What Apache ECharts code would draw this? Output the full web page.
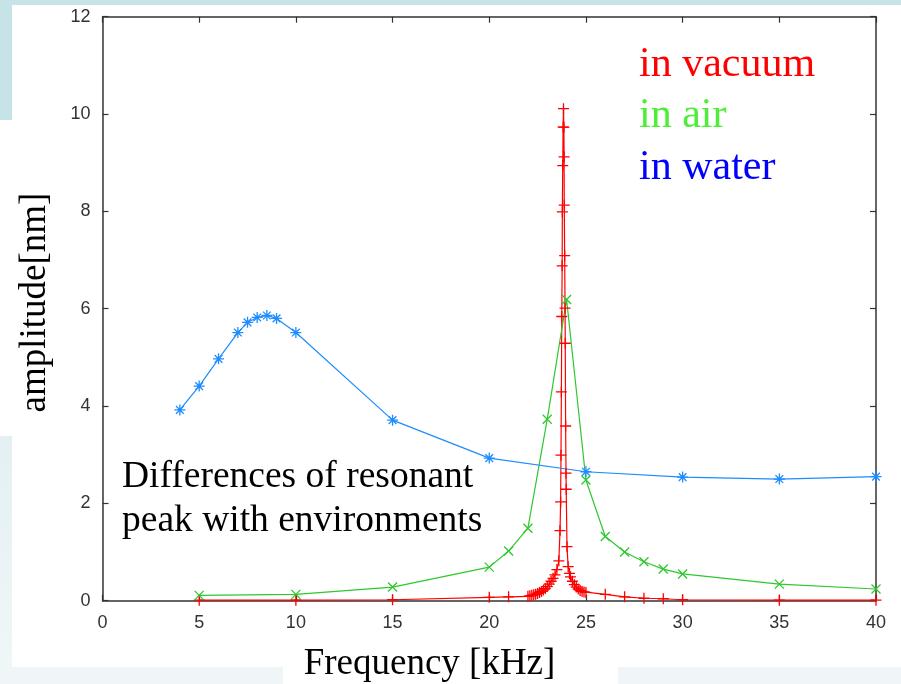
<!DOCTYPE html>
<html>
<head>
<meta charset="utf-8">
<script src="https://cdn.jsdelivr.net/npm/echarts@6/dist/echarts.min.js"></script>
<style>html,body{margin:0;padding:0;background:#fff}#c{width:901px;height:684px}</style>
</head>
<body>
<div id="c"></div>
<script>
// ---- data ----
var xTicks = [0, 5, 10, 15, 20, 25, 30, 35, 40];
var yTicks = [0, 2, 4, 6, 8, 10, 12];

var vacuumX = [5, 10, 15, 20, 21,
  22.0, 22.1, 22.2, 22.3, 22.4, 22.5, 22.6, 22.7, 22.8, 22.9, 23.0, 23.1, 23.2, 23.3, 23.4, 23.5, 23.6,
  23.66, 23.69, 23.71, 23.73, 23.75, 23.77, 23.78, 23.80, 23.82, 23.84,
  23.86, 23.87, 23.88, 23.90, 23.92, 23.93, 23.95, 23.97, 23.98, 24.02, 24.08,
  24.15, 24.2, 24.3, 24.4, 24.5, 24.6, 24.7, 24.8, 24.9, 25.0,
  26, 27, 28, 29, 30, 35, 40];
var vacuumY = [0.01, 0.01, 0.02, 0.07, 0.08,
  0.09, 0.10, 0.11, 0.12, 0.13, 0.15, 0.17, 0.19, 0.22, 0.25, 0.29, 0.34, 0.40, 0.46, 0.53, 0.64, 0.82,
  1.44, 2.03, 2.99, 4.29, 5.84, 6.88, 7.99, 8.94, 9.73, 10.11,
  9.73, 9.12, 8.13, 7.09, 6.01, 5.29, 3.59, 2.62, 2.29, 1.11, 0.70,
  0.56, 0.49, 0.40, 0.33, 0.28, 0.24, 0.21, 0.19, 0.18, 0.17,
  0.13, 0.08, 0.05, 0.04, 0.02, 0.01, 0.01];

var airX = [5, 10, 15, 20, 21, 22, 23, 24, 25, 26, 27, 28, 29, 30, 35, 40];
var airY = [0.11, 0.13, 0.28, 0.69, 1.02, 1.49, 3.73, 6.19, 2.48, 1.32, 1.00, 0.80, 0.65, 0.55, 0.34, 0.24];

var waterX = [4, 5, 6, 7, 7.5, 8, 8.5, 9, 10, 15, 20, 25, 30, 35, 40];
var waterY = [3.92, 4.41, 4.97, 5.51, 5.72, 5.82, 5.86, 5.80, 5.51, 3.71, 2.93, 2.65, 2.54, 2.50, 2.55];

var legendLabels = ['in vacuum', 'in air', 'in water'];
var xTitle = 'Frequency [kHz]';
var yTitle = 'amplitude[nm]';
var note = 'Differences of resonant\npeak with environments';

function zip(xs, ys) { return xs.map(function (x, i) { return [x, ys[i]]; }); }

var PLUS = 'path://M0,5L10,5M5,0L5,10';
var CROSS = 'path://M0,0L10,10M10,0L0,10';
var STAR = 'path://M0,5L10,5M5,0L5,10M1.5,1.5L8.5,8.5M8.5,1.5L1.5,8.5';

var axisCol = '#333';
var tickLabel = { color: '#333', fontFamily: 'Liberation Sans', fontSize: 18 };

function xAx(pos, showLabel) {
  return {
    type: 'value', position: pos, min: 0, max: 40, interval: 5,
    axisLine: { show: true, onZero: false, lineStyle: { color: axisCol, width: 1.5 } },
    axisTick: { show: true, inside: true, length: 6, lineStyle: { color: axisCol, width: 1.2 } },
    axisLabel: Object.assign({ show: showLabel, margin: 13 }, tickLabel),
    splitLine: { show: false }
  };
}
function yAx(pos, showLabel) {
  return {
    type: 'value', position: pos, min: 0, max: 12, interval: 2,
    axisLine: { show: true, onZero: false, lineStyle: { color: axisCol, width: 1.5 } },
    axisTick: { show: true, inside: true, length: 6, lineStyle: { color: axisCol, width: 1.2 } },
    axisLabel: Object.assign({ show: showLabel, margin: 12 }, tickLabel),
    splitLine: { show: false }
  };
}

function series(name, data, color, symbol, size) {
  return {
    name: name, type: 'line', data: data, xAxisIndex: 0, yAxisIndex: 0,
    showAllSymbol: true, symbol: symbol, symbolSize: size,
    lineStyle: { color: color, width: 1.2 },
    itemStyle: { color: color, borderColor: color, borderWidth: 1.3 },
    emphasis: { disabled: true }
  };
}

var chart = echarts.init(document.getElementById('c'), null, { renderer: 'canvas' });
chart.setOption({
  animation: false,
  backgroundColor: '#ffffff',
  grid: { left: 102.5, top: 16.7, right: 25, bottom: 83.3, containLabel: false },
  xAxis: [xAx('bottom', true), xAx('top', false)],
  yAxis: [yAx('left', true), yAx('right', false)],
  series: [
    series(legendLabels[0], zip(vacuumX, vacuumY), '#ff0000', PLUS, 11),
    series(legendLabels[1], zip(airX, airY), '#2ec82e', CROSS, 9),
    series(legendLabels[2], zip(waterX, waterY), '#1e8cff', STAR, 11)
  ],
  graphic: [
    { type: 'rect', z: -10, silent: true, shape: { x: 0, y: 0, width: 901, height: 5 }, style: { fill: '#c6e3e7' } },
    { type: 'rect', z: -10, silent: true, shape: { x: 0, y: 0, width: 12, height: 120 }, style: { fill: '#c6e3e7' } },
    { type: 'rect', z: -10, silent: true, shape: { x: 0, y: 436, width: 12, height: 248 },
      style: { fill: new echarts.graphic.LinearGradient(0, 0, 0, 1, [{ offset: 0, color: '#e3f0f2' }, { offset: 1, color: '#f1f7f8' }]) } },
    { type: 'rect', z: -10, silent: true, shape: { x: 0, y: 667, width: 283, height: 17 }, style: { fill: '#f0f6f7' } },
    { type: 'rect', z: -10, silent: true, shape: { x: 618, y: 667, width: 283, height: 17 }, style: { fill: '#f0f6f7' } },
    { type: 'text', x: 639, y: 65, style: { text: legendLabels[0], fill: '#ff0000', font: '42px "Liberation Serif"', textAlign: 'left', textVerticalAlign: 'middle' } },
    { type: 'text', x: 639, y: 116, style: { text: legendLabels[1], fill: '#4cee38', font: '42px "Liberation Serif"', textAlign: 'left', textVerticalAlign: 'middle' } },
    { type: 'text', x: 639, y: 168, style: { text: legendLabels[2], fill: '#0000ff', font: '42px "Liberation Serif"', textAlign: 'left', textVerticalAlign: 'middle' } },
    { type: 'text', x: 122, y: 499, style: { text: note, fill: '#000', font: '37.5px "Liberation Serif"', lineHeight: 44, textAlign: 'left', textVerticalAlign: 'middle' } },
    { type: 'text', x: 429.5, y: 664, style: { text: xTitle, fill: '#000', font: '37px "Liberation Serif"', textAlign: 'center', textVerticalAlign: 'middle' } },
    { type: 'text', x: 35, y: 302.5, rotation: Math.PI / 2, style: { text: yTitle, fill: '#000', font: '37px "Liberation Serif"', textAlign: 'center', textVerticalAlign: 'middle' } }
  ]
});
</script>
</body>
</html>
